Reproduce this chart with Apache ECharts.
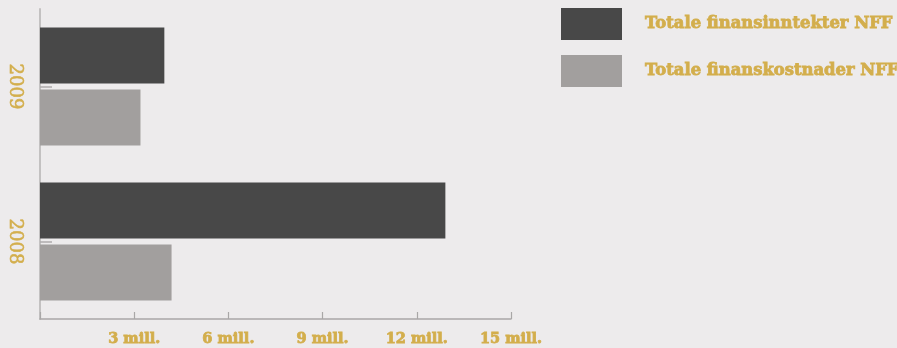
<!DOCTYPE html>
<html>
<head>
<meta charset="utf-8">
<script src="https://cdn.jsdelivr.net/npm/echarts@6/dist/echarts.min.js"></script>
<style>
  html, body { margin: 0; padding: 0; background: #edebec; }
  #chart { width: 897px; height: 348px; }
</style>
</head>
<body>
<div id="chart"></div>
<script>
const years = ['2008', '2009']
const inntekter = [12.91, 3.96]
const kostnader = [4.19, 3.2]
const xTicks = [0, 3, 6, 9, 12, 15]

const GOLD = '#d3ae4c'
const FONT = 'DejaVu Serif'

const chart = echarts.init(document.getElementById('chart'), null, { renderer: 'canvas' })

// heavier look, the original uses a bold slab face
const heavy = { textBorderColor: GOLD, textBorderWidth: 0.8 }

chart.setOption({
  backgroundColor: '#edebec',
  animation: false,
  grid: { left: 40, right: 386, top: 9, bottom: 29 },
  legend: {
    data: ['Totale finansinntekter NFF', 'Totale finanskostnader NFF'],
    orient: 'vertical',
    left: 561, top: 8, padding: 0,
    itemWidth: 61, itemHeight: 32, itemGap: 15,
    icon: 'rect',
    textStyle: { color: GOLD, fontFamily: FONT, fontWeight: 'bold', fontSize: 16.4, padding: [0, 0, 0, 18], ...heavy },
  },
  xAxis: {
    type: 'value',
    min: xTicks[0], max: xTicks[xTicks.length - 1], interval: 3,
    axisLine: { show: true, lineStyle: { color: '#a9a7a7', width: 1.5 } },
    axisTick: { show: true, inside: true, length: 7, lineStyle: { color: '#a9a7a7', width: 1.2 } },
    splitLine: { show: false },
    axisLabel: {
      color: GOLD, fontFamily: FONT, fontWeight: 'bold', fontSize: 14.5, margin: 13, ...heavy,
      formatter: v => (v === 0 ? '' : v + ' mill.'),
    },
  },
  yAxis: {
    type: 'category',
    data: years,
    axisLine: { show: true, lineStyle: { color: '#c3c1c1', width: 2 } },
    axisTick: { show: true, inside: true, alignWithLabel: true, length: 12, lineStyle: { color: '#aeacac', width: 1.5 } },
    axisLabel: { color: GOLD, fontFamily: FONT, fontSize: 18, rotate: -90, margin: 16, textBorderColor: GOLD, textBorderWidth: 0.6 },
  },
  series: [
    {
      name: 'Totale finansinntekter NFF', type: 'bar',
      data: inntekter,
      itemStyle: { color: '#484848' },
      barCategoryGap: '24%', barGap: '11%',
    },
    {
      name: 'Totale finanskostnader NFF', type: 'bar',
      data: kostnader,
      itemStyle: { color: '#a29f9e' },
      barCategoryGap: '24%', barGap: '11%',
    },
  ],
})
</script>
</body>
</html>
